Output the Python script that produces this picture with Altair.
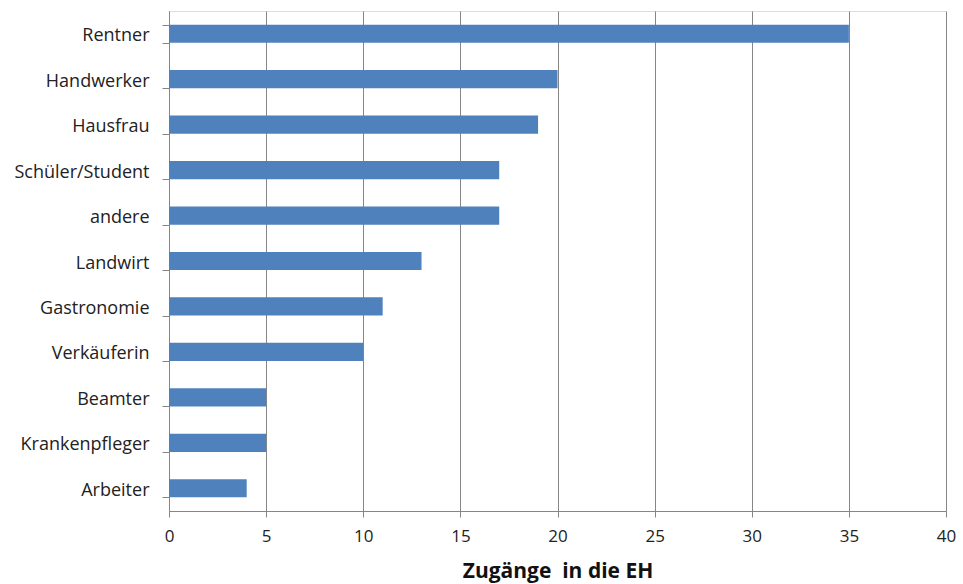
import altair as alt
import pandas as pd

categories = ["Rentner", "Handwerker", "Hausfrau", "Schüler/Student", "andere",
              "Landwirt", "Gastronomie", "Verkäuferin", "Beamter", "Krankenpfleger", "Arbeiter"]
values = [35, 20, 19, 17, 17, 13, 11, 10, 5, 5, 4]
x_title = "Zugänge \u00a0in die EH"

df = pd.DataFrame({"Beruf": categories, "Wert": values})

FONT = "Open Sans"

chart = alt.Chart(df).mark_bar(color="#4F81BD").encode(
    x=alt.X("Wert:Q",
            scale=alt.Scale(domain=[0, 40], nice=False),
            axis=alt.Axis(values=[0, 5, 10, 15, 20, 25, 30, 35, 40],
                          title=x_title,
                          titleFont=FONT, titleFontSize=21, titleFontWeight="bold",
                          titleColor="#111", titlePadding=16,
                          labelFont=FONT, labelFontSize=17, labelColor="#222",
                          labelPadding=11, tickSize=6, tickColor="#868686",
                          domainColor="#868686", grid=True, gridColor="#868686",
                          gridWidth=1, labelFlush=False)),
    y=alt.Y("Beruf:N", sort=categories,
            scale=alt.Scale(paddingInner=0.6, paddingOuter=0.3),
            axis=alt.Axis(title=None, labelFont=FONT, labelFontSize=18,
                          labelColor="#222", tickBand="extent", tickSize=7,
                          tickColor="#868686", domainColor="#868686",
                          labelPadding=13, labelOffset=2)),
).properties(
    width=777, height=500,
    autosize=alt.AutoSizeParams(type="none"),
    padding={"left": 169, "top": 11, "right": 17, "bottom": 73},
).configure_view(stroke=None).configure(background="white")

chart.save("out.html", embed_options={"renderer": "svg", "actions": False})
